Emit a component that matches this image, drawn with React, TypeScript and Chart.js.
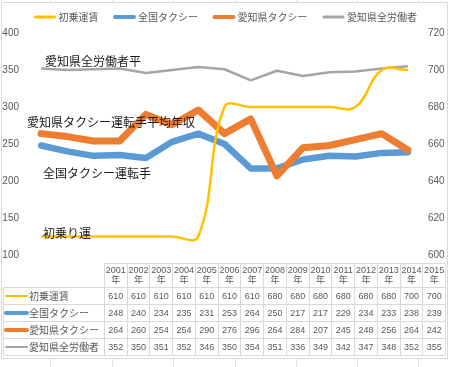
import React, { useEffect, useRef } from "react";
import { Chart, registerables } from "chart.js";

Chart.register(...registerables);

const years = ["2001", "2002", "2003", "2004", "2005", "2006", "2007", "2008", "2009", "2010", "2011", "2012", "2013", "2014", "2015"];
const yearSuffix = "年";
const seriesNames = ["初乗運賃", "全国タクシー", "愛知県タクシー", "愛知県全労働者"];
const fareValues = [610, 610, 610, 610, 610, 610, 610, 680, 680, 680, 680, 680, 680, 700, 700];
const nationalTaxiValues = [248, 240, 234, 235, 231, 253, 264, 250, 217, 217, 229, 234, 233, 238, 239];
const aichiTaxiValues = [264, 260, 254, 254, 290, 276, 296, 264, 284, 207, 245, 248, 256, 264, 242];
const aichiWorkersValues = [352, 350, 351, 352, 346, 350, 354, 351, 336, 349, 342, 347, 348, 352, 355];
const leftAxisRange = [100, 400];
const leftAxisStep = 50;
const rightAxisRange = [600, 720];
const rightAxisStep = 20;
const annotationTexts = ["愛知県全労働者平", "愛知県タクシー運転手平均年収", "全国タクシー運転手", "初乗り運"];

const COLORS = ["#FFC000", "#5B9BD5", "#ED7D31", "#A5A5A5"];
const LEGEND_THICK = [3, 4, 4, 3];
const TABLE_THICK = [2, 4, 4, 2];
const FONT = "'Liberation Sans', 'Noto Sans CJK JP', sans-serif";
const JFONT = "'Noto Sans CJK JP', sans-serif";
const TEXT_GRAY = "#595959";

const overlayPlugin = {
  id: "overlay",
  afterDraw(chart: any) {
    const ctx = chart.ctx as CanvasRenderingContext2D;
    ctx.save();

    // frame / cell borders
    ctx.strokeStyle = "#d9d9d9";
    ctx.lineWidth = 1;
    ctx.beginPath();
    ctx.rect(1.5, 2.5, 446, 356);
    ctx.stroke();
    ctx.strokeStyle = "#e3e3e3";
    ctx.beginPath();
    [50, 112, 173, 235, 296, 357, 418].forEach((x) => {
      ctx.moveTo(x + 0.5, 0);
      ctx.lineTo(x + 0.5, 2.5);
      ctx.moveTo(x + 0.5, 359);
      ctx.lineTo(x + 0.5, 367);
    });
    ctx.stroke();

    // legend
    ctx.font = `10px ${JFONT}`;
    ctx.textBaseline = "middle";
    ctx.textAlign = "left";
    const sampleW = 22;
    const gapA = 2.5;
    const gapB = 15;
    const widths = seriesNames.map((n) => ctx.measureText(n).width);
    const total = widths.reduce((a, w) => a + sampleW + gapA + w, 0) + gapB * (seriesNames.length - 1);
    let lx = 225.5 - total / 2;
    const ly = 17;
    seriesNames.forEach((name, i) => {
      ctx.strokeStyle = COLORS[i];
      ctx.lineWidth = LEGEND_THICK[i];
      ctx.lineCap = "round";
      ctx.beginPath();
      ctx.moveTo(lx + 1.5, ly);
      ctx.lineTo(lx + sampleW - 1.5, ly);
      ctx.stroke();
      ctx.fillStyle = TEXT_GRAY;
      ctx.fillText(name, lx + sampleW + gapA, ly + 0.5);
      lx += sampleW + gapA + widths[i] + gapB;
    });

    // annotations
    ctx.font = `12px ${JFONT}`;
    ctx.fillStyle = "#1a1a1a";
    const annPos = [
      [45, 61],
      [27, 122],
      [43, 173],
      [43, 233],
    ];
    annotationTexts.forEach((t, i) => {
      ctx.fillText(t, annPos[i][0], annPos[i][1]);
    });

    // data table
    const tLeft = 3.5;
    const labelRight = 104.5;
    const tRight = 445.5;
    const headTop = 263.5;
    const rowLines = [287.5, 304.5, 321.5, 338.5, 355.5];
    const colW = (tRight - labelRight) / years.length;
    ctx.strokeStyle = "#d9d9d9";
    ctx.lineWidth = 1;
    ctx.lineCap = "butt";
    ctx.beginPath();
    ctx.moveTo(labelRight, headTop);
    ctx.lineTo(tRight, headTop);
    rowLines.forEach((y) => {
      ctx.moveTo(tLeft, y);
      ctx.lineTo(tRight, y);
    });
    ctx.moveTo(tLeft, rowLines[0]);
    ctx.lineTo(tLeft, rowLines[rowLines.length - 1]);
    for (let c = 0; c <= years.length; c++) {
      const x = Math.round(labelRight + c * colW - 0.5) + 0.5;
      ctx.moveTo(x, headTop);
      ctx.lineTo(x, rowLines[rowLines.length - 1]);
    }
    ctx.stroke();

    ctx.fillStyle = TEXT_GRAY;
    ctx.textAlign = "center";
    ctx.font = `9px ${FONT}`;
    years.forEach((yr, c) => {
      const cx = labelRight + (c + 0.5) * colW;
      ctx.fillText(yr, cx, 270.5);
      ctx.fillText(yearSuffix, cx, 281);
    });
    const tableData = [fareValues, nationalTaxiValues, aichiTaxiValues, aichiWorkersValues];
    tableData.forEach((vals, r) => {
      const cy = (rowLines[r] + rowLines[r + 1]) / 2 + 0.5;
      vals.forEach((v, c) => {
        const cx = labelRight + (c + 0.5) * colW;
        ctx.fillText(String(v), cx, cy);
      });
    });
    ctx.textAlign = "left";
    ctx.font = `10px ${JFONT}`;
    seriesNames.forEach((name, r) => {
      const cy = (rowLines[r] + rowLines[r + 1]) / 2;
      ctx.strokeStyle = COLORS[r];
      ctx.lineWidth = TABLE_THICK[r];
      ctx.lineCap = "round";
      ctx.beginPath();
      ctx.moveTo(6, cy);
      ctx.lineTo(27, cy);
      ctx.stroke();
      ctx.fillStyle = TEXT_GRAY;
      ctx.fillText(name, 29, cy + 0.5);
    });

    ctx.restore();
  },
};

export default function App() {
  const canvasRef = useRef<HTMLCanvasElement | null>(null);

  useEffect(() => {
    const canvas = canvasRef.current;
    if (!canvas) return;
    const chart = new Chart(canvas, {
      type: "line",
      data: {
        labels: years,
        datasets: [
          {
            label: seriesNames[0],
            data: fareValues,
            yAxisID: "y2",
            borderColor: COLORS[0],
            backgroundColor: COLORS[0],
            borderWidth: 2.5,
            tension: 0.4,
            pointRadius: 0,
            order: 0,
          },
          {
            label: seriesNames[1],
            data: nationalTaxiValues,
            yAxisID: "y",
            borderColor: COLORS[1],
            backgroundColor: COLORS[1],
            borderWidth: 6.5,
            tension: 0,
            pointRadius: 0,
            borderJoinStyle: "round",
            borderCapStyle: "round",
            order: 3,
          },
          {
            label: seriesNames[2],
            data: aichiTaxiValues,
            yAxisID: "y",
            borderColor: COLORS[2],
            backgroundColor: COLORS[2],
            borderWidth: 7,
            tension: 0,
            pointRadius: 0,
            borderJoinStyle: "round",
            borderCapStyle: "round",
            order: 2,
          },
          {
            label: seriesNames[3],
            data: aichiWorkersValues,
            yAxisID: "y",
            borderColor: COLORS[3],
            backgroundColor: COLORS[3],
            borderWidth: 2.5,
            tension: 0,
            pointRadius: 0,
            borderJoinStyle: "round",
            order: 1,
          },
        ],
      },
      options: {
        responsive: false,
        animation: false,
        devicePixelRatio: 1,
        layout: { padding: { top: 33, bottom: 112, left: 0, right: 0 } },
        plugins: {
          legend: { display: false },
          tooltip: { enabled: false },
        },
        scales: {
          x: {
            type: "category",
            offset: true,
            display: false,
          },
          y: {
            position: "left",
            min: leftAxisRange[0],
            max: leftAxisRange[1],
            ticks: {
              stepSize: leftAxisStep,
              color: TEXT_GRAY,
              padding: 9,
              font: { size: 10, family: FONT },
            },
            grid: { display: false, drawTicks: false },
            border: { display: false },
            afterFit: (scale: any) => {
              scale.width = 28;
            },
          },
          y2: {
            position: "right",
            min: rightAxisRange[0],
            max: rightAxisRange[1],
            ticks: {
              stepSize: rightAxisStep,
              color: TEXT_GRAY,
              padding: 7,
              font: { size: 10, family: FONT },
            },
            grid: { display: false, drawTicks: false },
            border: { display: false },
            afterFit: (scale: any) => {
              scale.width = 29;
            },
          },
        },
      },
      plugins: [overlayPlugin],
    } as any);
    return () => chart.destroy();
  }, []);

  return (
    <div style={{ position: "fixed", left: 0, top: 0, width: 450, height: 367, background: "#fff" }}>
      <canvas ref={canvasRef} width={450} height={367} style={{ width: 450, height: 367, display: "block" }} />
    </div>
  );
}
